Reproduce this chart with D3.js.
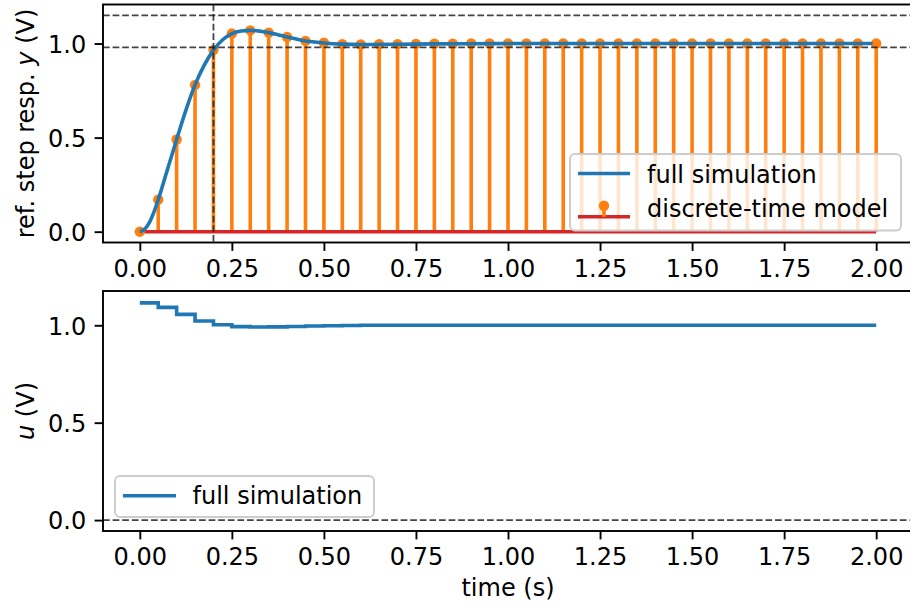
<!DOCTYPE html>
<html>
<head>
<meta charset="utf-8">
<script src="https://cdn.jsdelivr.net/npm/d3@7"></script>
<style>
  html, body { margin: 0; padding: 0; background: #fff; }
  svg { display: block; }
  text { font-family: "DejaVu Sans", sans-serif; fill: #000; }
</style>
</head>
<body>
<svg id="chart" width="910" height="607"></svg>
<script>
// ---- data ----
const tStem = [0.00,0.05,0.10,0.15,0.20,0.25,0.30,0.35,0.40,0.45,0.50,0.55,0.60,0.65,0.70,0.75,0.80,0.85,0.90,0.95,
               1.00,1.05,1.10,1.15,1.20,1.25,1.30,1.35,1.40,1.45,1.50,1.55,1.60,1.65,1.70,1.75,1.80,1.85,1.90,1.95,2.00];
const yStem = [0,0.17,0.49,0.78,0.965,1.053,1.07,1.058,1.035,1.014,1.004,0.997,0.995,0.996,0.997,0.998,0.999,0.999,
               1,1,1,1,1,1,1,1,1,1,1,1,1,1,1,1,1,1,1,1,1,1,1];
const tFull = [0,0.0125,0.025,0.0375,0.05,0.075,0.1,0.125,0.15,0.175,0.2,0.225,0.25,0.275,0.3,0.325,0.35,0.375,0.4,0.425,
               0.45,0.475,0.5,0.55,0.6,0.7,0.8,0.9,1.0,1.2,1.4,1.6,1.8,1.99];
const yFull = [0,0.012,0.045,0.1,0.17,0.33,0.49,0.645,0.78,0.885,0.965,1.02,1.053,1.067,1.07,1.066,1.058,1.047,1.035,1.024,
               1.014,1.008,1.003,0.997,0.995,0.996,0.998,0.999,1,1,1,1,1,1];
const uVals = [1.115,1.092,1.056,1.022,1.003,0.993,0.991,0.992,0.994,0.996,0.998,0.999,
               1,1,1,1,1,1,1,1,1,1,1,1,1,1,1,1,1,1,1,1,1,1,1,1,1,1,1,1,1];
const yBand = [0.98, 1.15];
const tMark = [0.2];
const uRef = [0];
const xTicks = [0,0.25,0.5,0.75,1.0,1.25,1.5,1.75,2.0];
const yTicks = [0,0.5,1.0];
const legendTop = ["full simulation", "discrete-time model"];
const legendBottom = ["full simulation"];

// ---- styles ----
const C0 = "#1f77b4", C1 = "#ff7f0e", C3 = "#d62728";
const FS = 24;
const MR = 5.2;
const svg = d3.select("#chart");
svg.append("rect").attr("width", 910).attr("height", 607).attr("fill", "#fff");

const L = 103, R = 913;
const x = d3.scaleLinear().domain([-0.1, 2.1]).range([L, R]);
const y1 = d3.scaleLinear().domain([-0.0575, 1.2075]).range([242.5, 4.5]);
const y2 = d3.scaleLinear().domain([-0.056, 1.176]).range([531, 291]);

const dashStyle = s => s.attr("stroke", "#222").attr("stroke-opacity", 0.85)
  .attr("stroke-width", 1.8).attr("stroke-dasharray", "6.7,2.9").attr("fill", "none");

function drawAxes(yScale, yTop, yBottom) {
  const gx = svg.append("g").attr("transform", `translate(0,${yBottom})`)
    .call(d3.axisBottom(x).tickValues(xTicks).tickFormat(d3.format(".2f")).tickSize(8.4).tickPadding(8.4));
  const gy = svg.append("g").attr("transform", `translate(${L},0)`)
    .call(d3.axisLeft(yScale).tickValues(yTicks).tickFormat(d3.format(".1f")).tickSize(8.4).tickPadding(8.4));
  [gx, gy].forEach(g => {
    g.select(".domain").remove();
    g.selectAll(".tick line").attr("stroke", "#000").attr("stroke-width", 1.9);
    g.selectAll(".tick text").attr("font-size", FS).attr("font-family", "DejaVu Sans").attr("fill", "#000");
  });
  gx.selectAll(".tick text").attr("dy", null).attr("y", 8.4 + 8.4 + 17.5);
  gy.selectAll(".tick text").attr("dy", null).attr("y", 8.75);
  svg.append("rect").attr("x", L).attr("y", yTop).attr("width", R - L).attr("height", yBottom - yTop)
    .attr("fill", "none").attr("stroke", "#000").attr("stroke-width", 1.9);
}

// ---- top panel ----
const gTop = svg.append("g");
gTop.selectAll("line.stem").data(tStem).join("line").attr("class", "stem")
  .attr("x1", d => x(d)).attr("x2", d => x(d))
  .attr("y1", y1(0)).attr("y2", (d, i) => y1(yStem[i]))
  .attr("stroke", C1).attr("stroke-width", 3.6);
gTop.append("line").attr("x1", x(tStem[0])).attr("x2", x(tStem[tStem.length - 1]))
  .attr("y1", y1(0)).attr("y2", y1(0)).attr("stroke", C3).attr("stroke-width", 3.6);
gTop.selectAll("circle").data(tStem).join("circle")
  .attr("cx", d => x(d)).attr("cy", (d, i) => y1(yStem[i])).attr("r", MR).attr("fill", C1);
gTop.append("path")
  .attr("d", d3.line().x(d => x(d[0])).y(d => y1(d[1])).curve(d3.curveMonotoneX)(tFull.map((t, i) => [t, yFull[i]])))
  .attr("fill", "none").attr("stroke", C0).attr("stroke-width", 3.6).attr("stroke-linejoin", "round");
yBand.forEach(v => gTop.append("line").attr("x1", L).attr("x2", R).attr("y1", y1(v)).attr("y2", y1(v)).call(dashStyle));
tMark.forEach(v => gTop.append("line").attr("x1", x(v)).attr("x2", x(v)).attr("y1", 4.5).attr("y2", 242.5).call(dashStyle));
drawAxes(y1, 4.5, 242.5);

// top legend
{
  const g = svg.append("g");
  g.append("rect").attr("x", 570).attr("y", 154).attr("width", 331).attr("height", 76.5).attr("rx", 5)
    .attr("fill", "rgba(255,255,255,0.8)").attr("stroke", "#cccccc").attr("stroke-width", 1.9);
  g.append("line").attr("x1", 578).attr("x2", 630).attr("y1", 173.5).attr("y2", 173.5)
    .attr("stroke", C0).attr("stroke-width", 3.6);
  g.append("line").attr("x1", 578).attr("x2", 630).attr("y1", 216.7).attr("y2", 216.7)
    .attr("stroke", C3).attr("stroke-width", 3.6);
  g.append("line").attr("x1", 604).attr("x2", 604).attr("y1", 216.7).attr("y2", 205.7)
    .attr("stroke", C1).attr("stroke-width", 3.6);
  g.append("circle").attr("cx", 604).attr("cy", 205.7).attr("r", MR).attr("fill", C1);
  g.append("text").attr("x", 647).attr("y", 182.5).attr("font-size", FS).text(legendTop[0]);
  g.append("text").attr("x", 647).attr("y", 217).attr("font-size", FS).text(legendTop[1]);
}

// y label top
svg.append("text").attr("transform", `translate(34,${(4.5 + 242.5) / 2}) rotate(-90)`)
  .attr("text-anchor", "middle").attr("font-size", FS)
  .call(t => { t.append("tspan").text("ref. step resp. ");
               t.append("tspan").attr("font-style", "italic").text("y");
               t.append("tspan").text(" (V)"); });

// ---- bottom panel ----
const gBot = svg.append("g");
uRef.forEach(v => gBot.append("line").attr("x1", L).attr("x2", R).attr("y1", y2(v)).attr("y2", y2(v)).call(dashStyle));
gBot.append("path")
  .attr("d", d3.line().x(d => x(d[0])).y(d => y2(d[1])).curve(d3.curveStepAfter)(tStem.map((t, i) => [t, uVals[i]])))
  .attr("fill", "none").attr("stroke", C0).attr("stroke-width", 3.6);
drawAxes(y2, 291, 531);

{
  const g = svg.append("g");
  g.append("rect").attr("x", 115).attr("y", 476).attr("width", 259).attr("height", 41).attr("rx", 5)
    .attr("fill", "rgba(255,255,255,0.8)").attr("stroke", "#cccccc").attr("stroke-width", 1.9);
  g.append("line").attr("x1", 123).attr("x2", 176).attr("y1", 495.7).attr("y2", 495.7)
    .attr("stroke", C0).attr("stroke-width", 3.6);
  g.append("text").attr("x", 192.5).attr("y", 503.5).attr("font-size", FS).text(legendBottom[0]);
}

svg.append("text").attr("transform", `translate(34,${(291 + 531) / 2}) rotate(-90)`)
  .attr("text-anchor", "middle").attr("font-size", FS)
  .call(t => { t.append("tspan").attr("font-style", "italic").text("u");
               t.append("tspan").text(" (V)"); });

svg.append("text").attr("x", (L + R) / 2).attr("y", 596).attr("text-anchor", "middle")
  .attr("font-size", FS).text("time (s)");
</script>
</body>
</html>
